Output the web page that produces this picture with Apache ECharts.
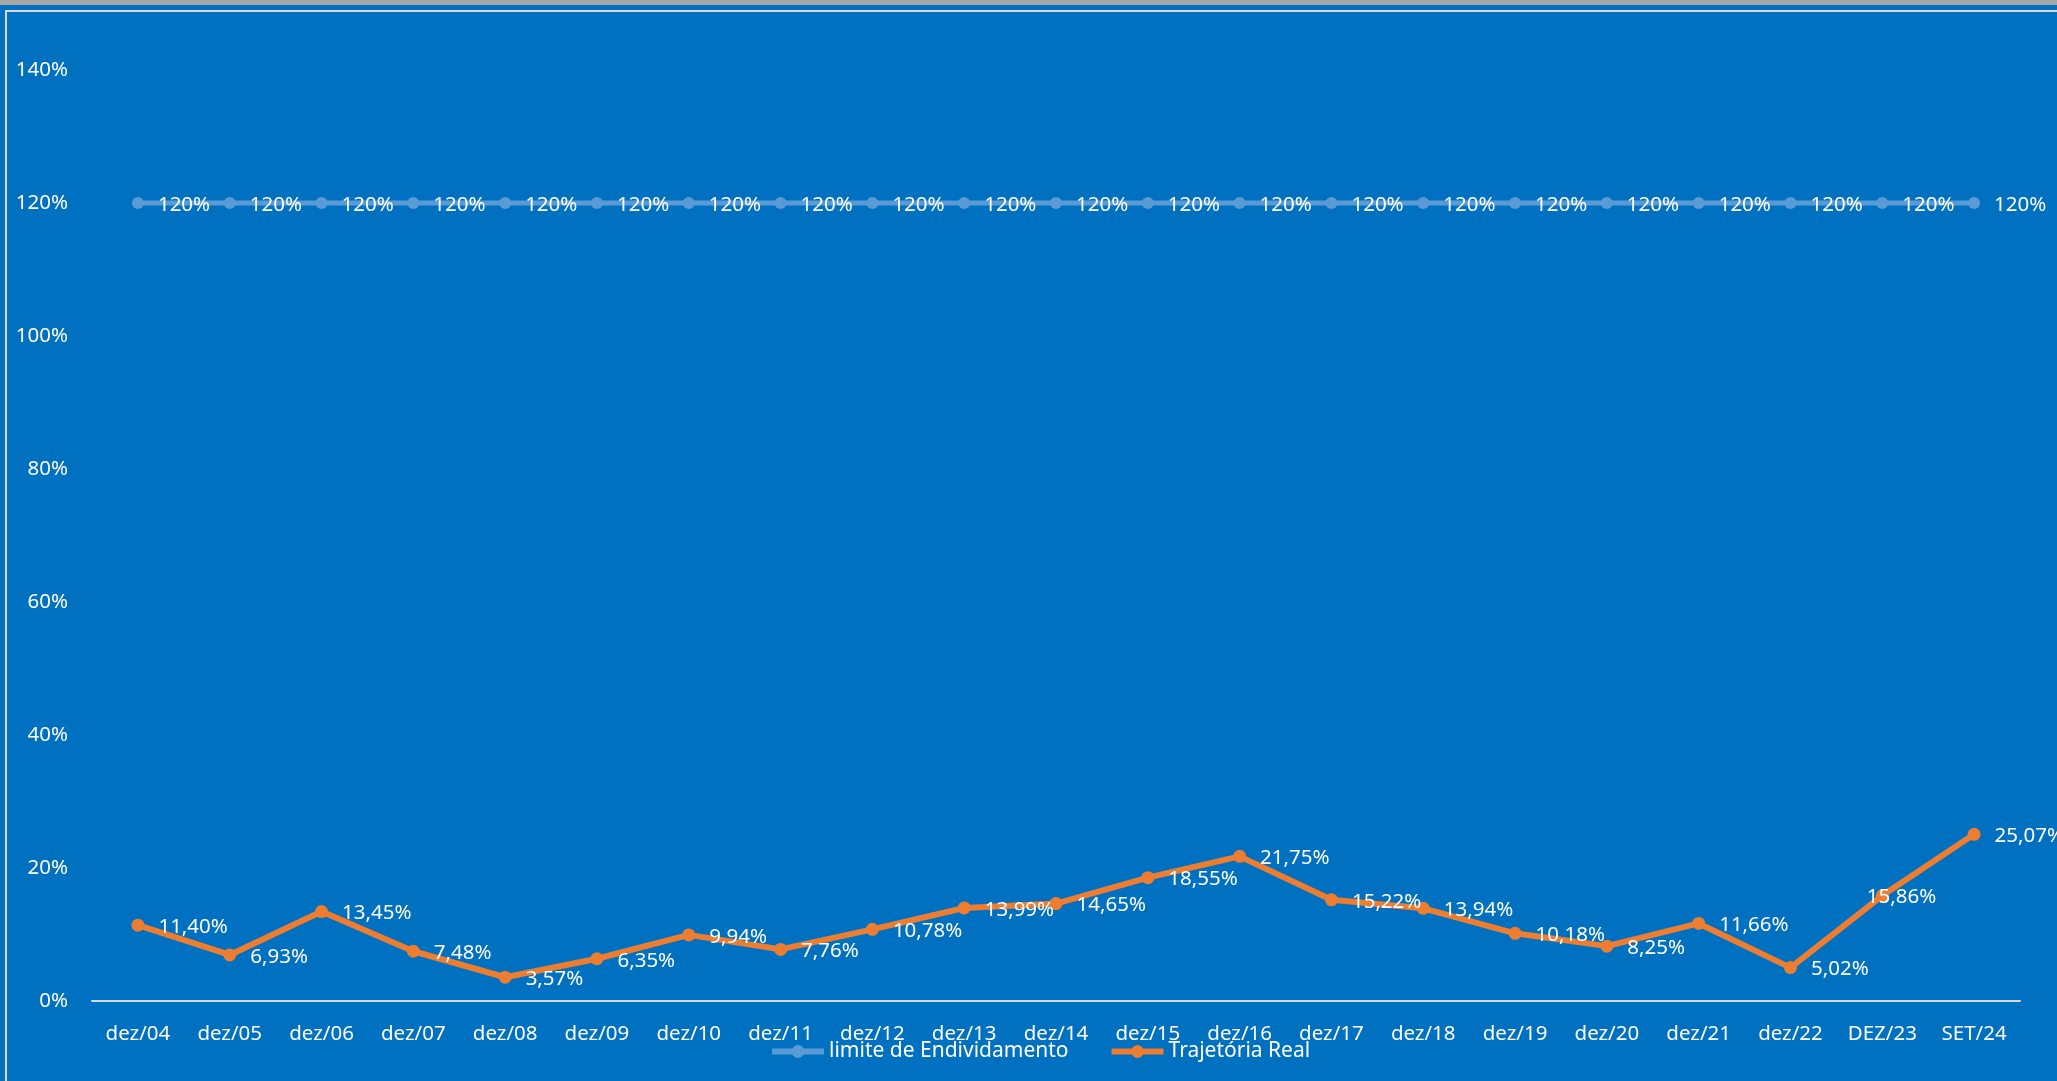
<!DOCTYPE html>
<html>
<head>
<meta charset="utf-8">
<script src="https://cdn.jsdelivr.net/npm/echarts@6/dist/echarts.min.js"></script>
<style>
html,body{margin:0;padding:0;background:#0070C0;}
#c{width:2057px;height:1081px;}
</style>
</head>
<body>
<div id="c"></div>
<script>
const categories = ['dez/04','dez/05','dez/06','dez/07','dez/08','dez/09','dez/10','dez/11','dez/12','dez/13','dez/14','dez/15','dez/16','dez/17','dez/18','dez/19','dez/20','dez/21','dez/22','DEZ/23','SET/24'];
const limiteValues = [120,120,120,120,120,120,120,120,120,120,120,120,120,120,120,120,120,120,120,120,120];
const trajetoriaValues = [11.40,6.93,13.45,7.48,3.57,6.35,9.94,7.76,10.78,13.99,14.65,18.55,21.75,15.22,13.94,10.18,8.25,11.66,5.02,15.86,25.07];
const yTicks = [0,20,40,60,80,100,120,140];
const seriesNames = ['limite de Endividamento','Trajetória Real'];

const FONT = 'Noto Sans';
const chart = echarts.init(document.getElementById('c'));

const trajData = trajetoriaValues.map((v, i) => {
  if (categories[i] === 'DEZ/23') {
    return { value: v, label: { offset: [-36, 2] } };
  }
  return v;
});

chart.setOption({
  backgroundColor: '#0070C0',
  animation: false,
  graphic: [
    { type: 'rect', shape: { x: 0, y: 0, width: 2057, height: 5 }, style: { fill: '#A6A6A6' }, silent: true },
    { type: 'rect', shape: { x: 6, y: 11, width: 2200, height: 1200 }, style: { fill: 'none', stroke: '#D9D9D9', lineWidth: 2 }, silent: true }
  ],
  grid: { left: 92, right: 37, top: 70, bottom: 80, containLabel: false },
  legend: {
    data: seriesNames,
    top: 1036,
    left: 764,
    itemWidth: 52,
    itemHeight: 16,
    itemGap: 40,
    lineStyle: { width: 6 },
    textStyle: { color: '#FFFFFF', fontFamily: FONT, fontSize: 21 }
  },
  xAxis: {
    type: 'category',
    data: categories,
    boundaryGap: true,
    axisLine: { show: true, lineStyle: { color: '#D9D9D9', width: 2 } },
    axisTick: { show: false },
    axisLabel: { color: '#FFFFFF', fontFamily: FONT, fontSize: 20.5, margin: 23, interval: 0 }
  },
  yAxis: {
    type: 'value',
    min: 0,
    max: 140,
    interval: 20,
    splitLine: { show: false },
    axisLine: { show: false },
    axisTick: { show: false },
    axisLabel: {
      color: '#FFFFFF', fontFamily: FONT, fontSize: 20.5, margin: 24,
      formatter: v => yTicks.includes(v) ? v + '%' : ''
    }
  },
  series: [
    {
      name: seriesNames[0],
      type: 'line',
      data: limiteValues,
      symbol: 'circle',
      symbolSize: 12,
      lineStyle: { color: '#5B9BD5', width: 5 },
      itemStyle: { color: '#5B9BD5' },
      label: {
        show: true, position: 'right', distance: 14, offset: [0, 2],
        color: '#FFFFFF', fontFamily: FONT, fontSize: 20.5,
        formatter: p => p.value + '%'
      },
      z: 2
    },
    {
      name: seriesNames[1],
      type: 'line',
      data: trajData,
      symbol: 'circle',
      symbolSize: 13,
      lineStyle: { color: '#ED7D31', width: 6 },
      itemStyle: { color: '#ED7D31' },
      label: {
        show: true, position: 'right', distance: 14, offset: [0, 2],
        color: '#FFFFFF', fontFamily: FONT, fontSize: 20.5,
        formatter: p => p.value.toFixed(2).replace('.', ',') + '%'
      },
      z: 3
    }
  ]
});
</script>
</body>
</html>
